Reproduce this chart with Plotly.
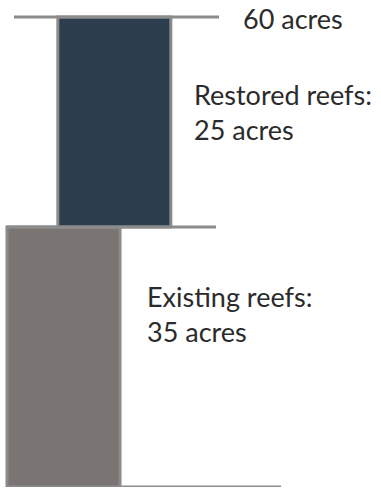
import plotly.graph_objects as go

# Reef area, in acres
segments = ["Existing reefs", "Restored reefs"]
acres = [35, 25]
fill_colors = ["#7a7472", "#2c3e4e"]

total = sum(acres)
bases = [0, acres[0]]

# Horizontal position of each stacked block (units of bar widths)
bar_x = [0.0, 0.45]
bar_w = 1.0

W, H = 381, 490
px_per_unit_x = 113.0
x0_px = 63.5

# Vertical scale: the total sits near the top, the axis is cut off near the foot
y_total_px, y_split_px, y_foot_px = 17.0, 227.0, 487.0
px_per_acre = (y_split_px - y_total_px) / acres[1]
y_max = total + y_total_px / px_per_acre
y_min = acres[0] - (y_foot_px - y_split_px) / px_per_acre


def to_x(px):
    return (px - x0_px) / px_per_unit_x


def to_y(px):
    return y_max - px / px_per_acre


fig = go.Figure()

# Reference lines at the top of existing reefs and at the total
line_color = "#8c8c8c"
ref_lines = [
    (acres[0], 7, 216),
    (total, 14, 219),
]
for val, xa, xb in ref_lines:
    fig.add_trace(go.Scatter(
        x=[to_x(xa), to_x(xb)], y=[val, val], mode="lines",
        line=dict(color=line_color, width=3), hoverinfo="skip", showlegend=False,
    ))

for name, val, base, xc, col in zip(segments, acres, bases, bar_x, fill_colors):
    fig.add_trace(go.Bar(
        x=[xc], y=[val], base=[base], width=[bar_w], name=name,
        marker=dict(color=col, line=dict(color="#8a8a8a", width=3)),
        showlegend=False,
    ))

# Ground line along the foot of the plot area
fig.add_trace(go.Scatter(
    x=[to_x(7), to_x(281)], y=[y_min, y_min], mode="lines", cliponaxis=False,
    line=dict(color=line_color, width=3), hoverinfo="skip", showlegend=False,
))

font = dict(family="Lato, Carlito, sans-serif", size=27, color="#2b2b2b")
labels = [
    (f"{total} acres", 241, 18),
    (f"Restored reefs:<br>{acres[1]} acres", 192, 112),
    (f"Existing reefs:<br>{acres[0]} acres", 145, 314),
]
for text, xpx, ypx in labels:
    fig.add_annotation(
        x=to_x(xpx), y=to_y(ypx), text=text, showarrow=False, xanchor="left",
        yanchor="middle", align="left", font=font,
    )

fig.update_layout(
    width=W, height=H, margin=dict(l=0, r=0, t=0, b=H - y_foot_px),
    plot_bgcolor="white", paper_bgcolor="white", barmode="overlay",
    xaxis=dict(range=[to_x(0), to_x(W)], visible=False, fixedrange=True),
    yaxis=dict(range=[y_min, y_max], visible=False, fixedrange=True),
)

fig.write_html("out.html")
